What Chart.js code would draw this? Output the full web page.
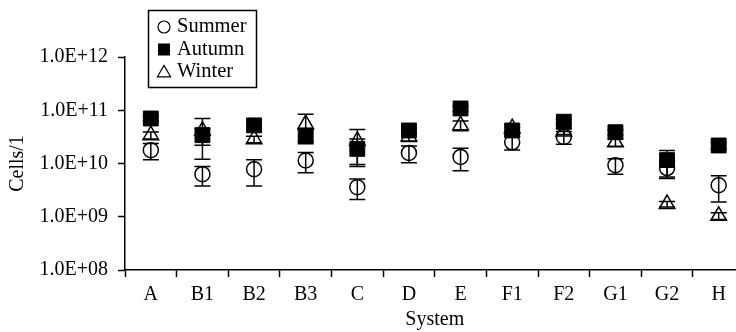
<!DOCTYPE html>
<html>
<head>
<meta charset="utf-8">
<script src="https://cdn.jsdelivr.net/npm/chart.js@4/dist/chart.umd.min.js"></script>
<style>
    html, body { margin: 0; padding: 0; background: #fff; overflow: hidden; }
    #wrap { width: 736px; height: 332px; overflow: hidden; position: relative; }
    #myChart { position: absolute; left: 0; top: 0; }
</style>
</head>
<body>
<!-- the plot runs past the right edge of the window, like the original -->
<div id="wrap"><canvas id="myChart" width="756" height="332"></canvas></div>
<script>
"use strict"

let categories = ['A', 'B1', 'B2', 'B3', 'C', 'D', 'E', 'F1', 'F2', 'G1', 'G2', 'H'];

let summer = [1.78e10, 6.3e9, 7.8e9, 1.14e10, 3.6e9, 1.58e10, 1.33e10, 2.5e10, 3.16e10, 9.3e9, 8.2e9, 3.9e9];
let summerErr = [6e9, 2.5e9, 4.0e9, 4.7e9, 1.5e9, 5.5e9, 6e9, 7e9, 8.5e9, 3e9, 3e9, 2e9];

let autumn = [7.0e10, 3.4e10, 5.2e10, 3.36e10, 1.88e10, 4.17e10, 1.08e11, 4.17e10, 6.1e10, 3.87e10, 1.16e10, 2.18e10];
let autumnErr = [0.8e10, 1.2e10, 0.6e10, 1.0e10, 1.0e10, 0.5e10, 1.2e10, 0.6e10, 0.6e10, 0.4e10, 0.6e10, 0.3e10];

let winter = [3.4e10, 4.1e10, 2.86e10, 5.5e10, 2.66e10, 3.2e10, 5.2e10, 4.6e10, 4.0e10, 2.5e10, 1.73e9, 1.04e9];
let winterErr = [0.5e10, 2.9e10, 0.4e10, 2.9e10, 1.7e10, 0.6e10, 1.1e10, 0.8e10, 0.5e10, 0.4e10, 0.2e9, 0.15e9];

let yTicks = [1e8, 1e9, 1e10, 1e11, 1e12];
let yTickLabels = ['1.0E+08', '1.0E+09', '1.0E+10', '1.0E+11', '1.0E+12'];

let errors = [summerErr, autumnErr, winterErr];
let serif = 'Liberation Serif';

// error bars go under the markers so the filled squares hide them
const errorBars = {
    id: 'errorBars',
    beforeDatasetsDraw(chart) {
        let ctx = chart.ctx;
        let yScale = chart.scales.y;
        ctx.save();
        ctx.strokeStyle = '#000';
        ctx.lineWidth = 1.5;
        chart.data.datasets.forEach((ds, i) => {
            let meta = chart.getDatasetMeta(i);
            meta.data.forEach((pt, j) => {
                let v = ds.data[j];
                let e = errors[i][j];
                let top = yScale.getPixelForValue(v + e);
                let bot = yScale.getPixelForValue(Math.max(v - e, 1e8));
                ctx.beginPath();
                ctx.moveTo(pt.x, top);
                ctx.lineTo(pt.x, bot);
                ctx.moveTo(pt.x - 8, top);
                ctx.lineTo(pt.x + 8, top);
                ctx.moveTo(pt.x - 8, bot);
                ctx.lineTo(pt.x + 8, bot);
                ctx.stroke();
            });
        });
        ctx.restore();
    }
};

function drawMarker(ctx, style, x, y, r) {
    ctx.beginPath();
    if (style === 'circle') {
        ctx.arc(x, y, r, 0, Math.PI * 2);
        ctx.stroke();
    } else if (style === 'rect') {
        ctx.fillRect(x - r, y - r, r * 2, r * 2);
    } else {
        ctx.moveTo(x, y - r * 1.1);
        ctx.lineTo(x + r * 1.1, y + r * 0.8);
        ctx.lineTo(x - r * 1.1, y + r * 0.8);
        ctx.closePath();
        ctx.stroke();
    }
}

// boxed legend sits over the top left of the plot, drawn by hand
const legendBox = {
    id: 'legendBox',
    afterDraw(chart) {
        let ctx = chart.ctx;
        ctx.save();
        ctx.strokeStyle = '#000';
        ctx.lineWidth = 1.5;
        ctx.fillStyle = '#fff';
        ctx.fillRect(148.5, 10.5, 108, 77);
        ctx.strokeRect(148.5, 10.5, 108, 77);
        ctx.fillStyle = '#000';
        ctx.lineWidth = 1.2;
        ctx.font = '20.5px "' + serif + '"';
        ctx.textBaseline = 'middle';
        let rows = [27, 49.5, 72];
        chart.data.datasets.forEach((ds, i) => {
            drawMarker(ctx, ds.pointStyle, 164, rows[i], 6);
            ctx.fillText(ds.label, 177, rows[i]);
        });
        ctx.restore();
    }
};

const data = {
    labels: categories,
    datasets: [{
        label: 'Summer',
        data: summer,
        pointStyle: 'circle',
        pointRadius: 7.5,
        pointBorderWidth: 1.5,
        borderColor: '#000',
        backgroundColor: 'rgba(0,0,0,0)',
        showLine: false
    },
    {
        label: 'Autumn',
        data: autumn,
        pointStyle: 'rect',
        pointRadius: 10.5,
        pointBorderWidth: 1,
        borderColor: '#000',
        backgroundColor: '#000',
        showLine: false
    },
    {
        label: 'Winter',
        data: winter,
        pointStyle: 'triangle',
        pointRadius: 9,
        pointBorderWidth: 1.5,
        borderColor: '#000',
        backgroundColor: 'rgba(0,0,0,0)',
        showLine: false
    }]
};

const config = {
    type: 'line',
    data: data,
    plugins: [errorBars, legendBox],
    options: {
        responsive: false,
        animation: false,
        layout: {
            padding: { top: 57, left: 0, right: 2, bottom: 0 }
        },
        plugins: {
            legend: { display: false },
            tooltip: { enabled: false }
        },
        scales: {
            x: {
                offset: true,
                grid: {
                    offset: true,
                    drawOnChartArea: false,
                    tickLength: 7,
                    tickColor: '#000',
                    tickWidth: 1.5
                },
                border: { color: '#000', width: 1.5 },
                ticks: {
                    color: '#000',
                    font: { family: serif, size: 20 },
                    padding: 6,
                    maxRotation: 0,
                    autoSkip: false
                },
                title: {
                    display: true,
                    text: 'System',
                    color: '#000',
                    font: { family: serif, size: 20 },
                    padding: { top: 0, bottom: 0 }
                },
                afterFit: (s) => { s.height = 62; }
            },
            y: {
                type: 'logarithmic',
                min: 1e8,
                max: 1e12,
                afterBuildTicks: (axis) => {
                    axis.ticks = yTicks.map(v => ({ value: v }));
                },
                grid: {
                    drawOnChartArea: false,
                    tickLength: 7,
                    tickColor: '#000',
                    tickWidth: 1.5
                },
                border: { color: '#000', width: 1.5 },
                ticks: {
                    color: '#000',
                    font: { family: serif, size: 20 },
                    padding: 10,
                    callback: (v) => yTickLabels[yTicks.indexOf(v)]
                },
                title: {
                    display: true,
                    text: 'Cells/1',
                    color: '#000',
                    font: { family: serif, size: 20 },
                    padding: { top: 6, bottom: 0 }
                },
                afterFit: (s) => { s.width = 125; }
            }
        }
    }
};

let canvasChart = document.getElementById('myChart');
const myChart = new Chart(canvasChart, config);
</script>
</body>
</html>
